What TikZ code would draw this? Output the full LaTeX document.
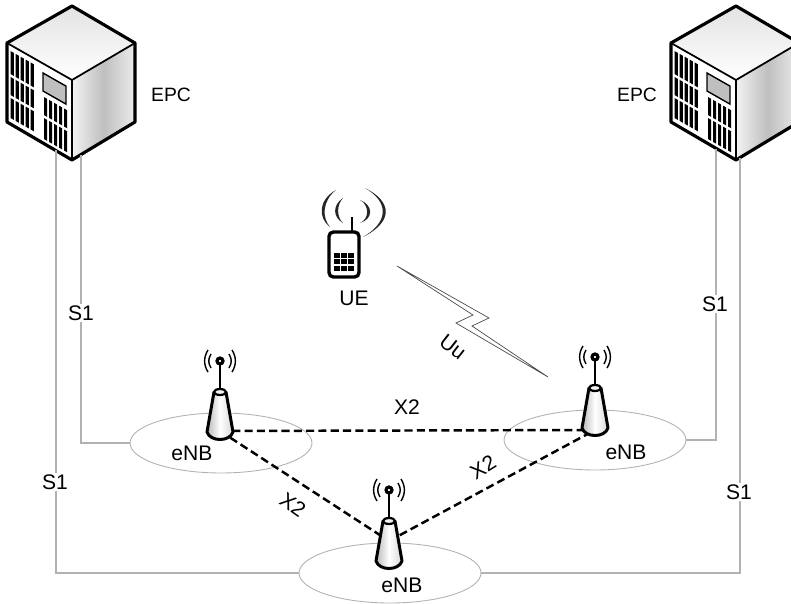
\documentclass[tikz,border=0pt]{standalone}
\usepackage{fontspec}
\setmainfont{Liberation Sans}
\usetikzlibrary{shapes.geometric}

\tikzset{
  link/.style={draw=gray!60, line width=0.6pt},
  xlink/.style={draw=black, line width=1.4pt, dash pattern=on 4.6pt off 2.4pt},
  cell/.style={draw=gray!60, line width=0.5pt, minimum width=3.64cm, minimum height=1.2cm, ellipse, inner sep=0pt},
  lbl/.style={font=\fontsize{12}{14}\selectfont, inner sep=1pt},
  whitelbl/.style={lbl, fill=white},
  epclbl/.style={font=\fontsize{11}{13}\selectfont, inner sep=1pt},
  epc/.pic={
    \fill[top color=gray!22, bottom color=white] (72,6) -- (135,43) -- (72,80) -- (7,43) -- cycle;
    \shade[left color=gray!10, right color=gray!15, middle color=gray!50] (72,80) -- (135,43) -- (135,122) -- (72,160) -- cycle;
    \fill[white] (7,43) -- (72,80) -- (72,160) -- (7,122) -- cycle;
    \begin{scope}[cm={1,-0.57,0,1,(0,0)}]
      % left vents
      \foreach \u in {10.5,15.5,20.5,25.5,30.5} {
        \fill[black] (\u,45) rectangle (\u+3.4,68);
        \fill[black] (\u,71) rectangle (\u+3.4,89);
        \fill[black] (\u,92) rectangle (\u+3.4,112);
      }
      % right vents
      \foreach \u in {44,49,54,59,64} {
        \fill[black] (\u,72) rectangle (\u+3.2,90);
        \fill[black] (\u,93) rectangle (\u+3.2,114);
      }
      \draw[black, line width=0.8pt, fill=gray!50] (43,48.5) rectangle (66,66.5);
    \end{scope}
    \draw[black, line width=1.8pt, line join=round] (72,6) -- (135,43) -- (135,122) -- (72,160) -- (7,122) -- (7,43) -- cycle;
    \draw[black, line width=1pt] (7,43) -- (72,80) -- (135,43);
    \draw[black, line width=1pt] (72,80) -- (72,160);
  },
  enb/.pic={
    \draw[black, line width=0.8pt] (-9,-7) .. controls (-12,-2) and (-12,2) .. (-9,7);
    \draw[black, line width=0.8pt] (9,-7) .. controls (12,-2) and (12,2) .. (9,7);
    \draw[black, line width=0.8pt] (-12,-11) .. controls (-16.5,-4) and (-16.5,4) .. (-12,11);
    \draw[black, line width=0.8pt] (12,-11) .. controls (16.5,-4) and (16.5,4) .. (12,11);
    \draw[black, line width=1.6pt] (0,0) -- (0,28);
    \shade[left color=gray!55, right color=gray!30, middle color=white] (-6,31) -- (-13,71) .. controls (-10,81) and (10,81) .. (13,71) -- (6,31) -- cycle;
    \draw[black, line width=1.7pt, line join=round] (-6,31) -- (-13,71) .. controls (-10,81) and (10,81) .. (13,71) -- (6,31);
    \draw[black, line width=1.3pt, fill=gray!10] (0,31) ellipse (6 and 3);
    \draw[black, line width=1.8pt, fill=white] (0,0) circle (3);
  }
}

\begin{document}
\begin{tikzpicture}[x=0.02cm, y=-0.02cm]
\useasboundingbox (0,0) rectangle (791,604);

% Servers
\pic at (0,0) {epc};
\pic at (664,0) {epc};
\coordinate (epcLa) at (56,150);
\coordinate (epcLb) at (81,155);
\coordinate (epcRa) at (716,149);
\coordinate (epcRb) at (740,158);

% Cells
\node[cell] (cellL) at (221,443) {};
\node[cell] (cellR) at (595,440) {};
\node[cell] (cellB) at (390,573) {};

% S1
\draw[link] (epcLb) |- (cellL.west);
\draw[link] (epcLa) |- (cellB.west);
\draw[link] (epcRa) |- (cellR.east);
\draw[link] (epcRb) |- (cellB.east);

% X2
\coordinate (midL) at (220,431);
\coordinate (midR) at (595,430);
\coordinate (midB) at (389,541);
\draw[xlink] (midL) -- (midR);
\draw[xlink] (midL) -- (midB);
\draw[xlink] (midB) -- (midR);

% Antennas
\pic at (220,361) {enb};
\pic at (595,357) {enb};
\pic at (389,490) {enb};

% Phone
\draw[black, line width=1.6pt] (352,217) -- (352,233);
\draw[black, line width=1.9pt, rounded corners=2.5pt, fill=white] (329,232) rectangle (359,277);
\foreach \i in {0,1,2} {
  \foreach \j in {0,1,2} {
    \fill[black] (334+\i*7,253+\j*6.5) rectangle (339.5+\i*7,258+\j*6.5);
  }
}
\fill[black!85] (336,190) .. controls (318,200) and (318,218) .. (330,227) .. controls (322,218) and (322,201) .. (336,190) -- cycle;
\fill[black!85] (343,198) .. controls (332.5,205) and (332.5,217) .. (343,223) .. controls (336.5,217) and (336.5,205) .. (343,198) -- cycle;
\fill[black!85] (365,188) .. controls (393,202) and (393,222) .. (363,237) .. controls (389,222) and (389,202) .. (365,188) -- cycle;
\fill[black!85] (360,200) .. controls (373.5,205) and (373.5,219) .. (360,223) .. controls (369.5,219) and (369.5,205) .. (360,200) -- cycle;

% Radio link
\draw[black!70, line width=0.4pt, line join=miter] (397,266) -- (473,315) -- (456,323) -- (548,377) -- (472,326) -- (489,318) -- cycle;

% Labels
\node[epclbl] (epcLtext) at (171,95) {EPC};
\node[epclbl] (epcRtext) at (637,95) {EPC};
\node[lbl] (uetext) at (354,298) {UE};
\node[lbl, rotate=-38] (uutext) at (453,347) {Uu};
\node[lbl] (x2top) at (407,407) {X2};
\node[lbl, rotate=32] (x2right) at (483,467) {X2};
\node[lbl, rotate=-35] (x2left) at (293,505) {X2};
\node[lbl] (enbLtext) at (192,453) {eNB};
\node[lbl] (enbRtext) at (626,452) {eNB};
\node[lbl] (enbBtext) at (402,585) {eNB};
\node[whitelbl] (s1a) at (81,313) {S1};
\node[whitelbl] (s1b) at (55,482) {S1};
\node[whitelbl] (s1c) at (715,304) {S1};
\node[whitelbl] (s1d) at (739,492) {S1};

\end{tikzpicture}
\end{document}
